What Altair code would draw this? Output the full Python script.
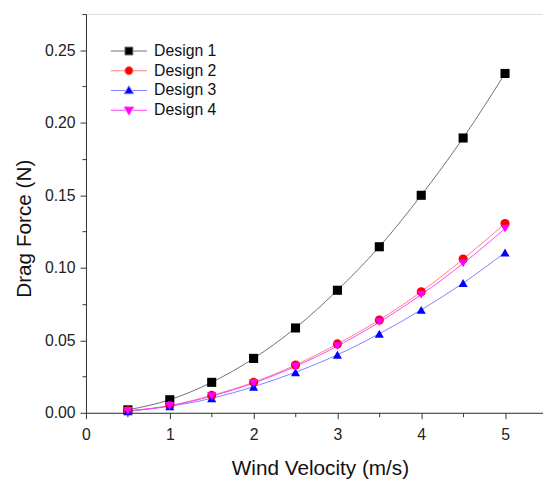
import altair as alt
import pandas as pd

designs = ["Design 1", "Design 2", "Design 3", "Design 4"]
velocity = [0.5, 1.0, 1.5, 2.0, 2.5, 3.0, 3.5, 4.0, 4.5, 5.0]
force_d1 = [0.0020, 0.0090, 0.0210, 0.0375, 0.0585, 0.0845, 0.1145, 0.1500, 0.1895, 0.2340]
force_d2 = [0.0013, 0.0050, 0.0120, 0.0210, 0.0330, 0.0475, 0.0640, 0.0835, 0.1060, 0.1305]
force_d3 = [0.0010, 0.0045, 0.0100, 0.0180, 0.0280, 0.0400, 0.0545, 0.0710, 0.0895, 0.1105]
force_d4 = [0.0013, 0.0048, 0.0115, 0.0205, 0.0320, 0.0460, 0.0625, 0.0815, 0.1030, 0.1270]

marker_colors = ["#000000", "#ff0000", "#0000ff", "#ff00ff"]
line_colors = ["#707070", "#ff8080", "#8080ff", "#ff40ff"]
marker_shapes = ["square", "circle", "triangle-up", "triangle-down"]
# legend symbols: a horizontal line with the marker in its middle (unit = 10 px)
legend_paths = [
    "M-1.83,0H-0.4M0.4,0H1.83M-0.4,-0.4H0.4V0.4H-0.4Z",
    "M-1.83,0H-0.42M0.42,0H1.83M0.42,0A0.42,0.42,0,1,1,-0.42,0A0.42,0.42,0,1,1,0.42,0Z",
    "M-1.83,0H-0.4M0.4,0H1.83M0,-0.48L0.48,0.33H-0.48Z",
    "M-1.83,0H-0.4M0.4,0H1.83M0,0.48L0.48,-0.33H-0.48Z",
]

rows = []
for name, vals in zip(designs, [force_d1, force_d2, force_d3, force_d4]):
    for v, f in zip(velocity, vals):
        rows.append({"design": name, "v": v, "f": f})
df = pd.DataFrame(rows)

x_ticks = [round(i * 0.5, 2) for i in range(0, 11)]
y_ticks = [round(i * 0.025, 3) for i in range(0, 12)]

FONT = "Liberation Sans"

common_axis = dict(
    grid=False,
    labelFontSize=16,
    labelFont=FONT,
    labelColor="#222222",
    titleFontSize=21,
    titleFont=FONT,
    titleFontWeight="normal",
    titleColor="#111111",
    domainColor="#333333",
    tickColor="#333333",
    labelFlush=False,
    labelOverlap=False,
)

x_enc = alt.X(
    "v:Q",
    scale=alt.Scale(domain=[0, 5.453], nice=False, zero=False),
    axis=alt.Axis(
        title="Wind Velocity (m/s)",
        values=x_ticks,
        labelExpr="datum.value % 1 === 0 ? format(datum.value, 'd') : ''",
        tickSize={"condition": {"test": "datum.value % 1 === 0", "value": 6}, "value": 4},
        labelPadding=8,
        titlePadding=16,
        titleX=237,
        **common_axis,
    ),
)
y_enc = alt.Y(
    "f:Q",
    scale=alt.Scale(domain=[0, 0.275], nice=False, zero=True),
    axis=alt.Axis(
        title="Drag Force (N)",
        values=y_ticks,
        labelExpr="abs(datum.value * 20 - round(datum.value * 20)) < 0.001 ? format(datum.value, '.2f') : ''",
        tickSize={"condition": {"test": "abs(datum.value * 20 - round(datum.value * 20)) < 0.001", "value": 6}, "value": 4},
        labelPadding=5,
        titlePadding=10,
        titleY=217,
        **common_axis,
    ),
)

base = alt.Chart(df)

lines = base.mark_line(interpolate="monotone", strokeWidth=1).encode(
    x=x_enc,
    y=y_enc,
    color=alt.Color("design:N", scale=alt.Scale(domain=designs, range=line_colors), legend=None),
    detail="design:N",
)

points = base.mark_point(filled=True, size=85, opacity=1).encode(
    x=x_enc,
    y=y_enc,
    color=alt.Color("design:N", scale=alt.Scale(domain=designs, range=marker_colors), legend=None),
    shape=alt.Shape("design:N", scale=alt.Scale(domain=designs, range=marker_shapes), legend=None),
)

leg = alt.Legend(
    title=None,
    orient="none",
    legendX=33,
    legendY=27,
    padding=0,
    symbolSize=400,
    symbolStrokeWidth=1,
    labelFontSize=16,
    labelFont=FONT,
    labelColor="#111111",
    labelOffset=15,
    rowPadding=1,
)

legend_layer = base.transform_filter("false").mark_point(
    filled=True, size=400, opacity=1, strokeWidth=1
).encode(
    x=x_enc,
    y=y_enc,
    fill=alt.Fill("design:N", scale=alt.Scale(domain=designs, range=marker_colors), legend=leg),
    stroke=alt.Stroke("design:N", scale=alt.Scale(domain=designs, range=line_colors), legend=leg),
    shape=alt.Shape("design:N", scale=alt.Scale(domain=designs, range=legend_paths), legend=leg),
)

chart = (
    alt.layer(lines, points, legend_layer)
    .resolve_scale(color="independent", shape="independent", fill="independent", stroke="independent")
    .properties(
        width=463,
        height=404,
        autosize=alt.AutoSizeParams(type="none"),
        padding={"left": 79, "top": 3, "right": 0, "bottom": 65},
    )
    .configure_view(stroke=None)
    .configure(background="white")
)

chart.save("out.html", embed_options={"renderer": "svg", "actions": False})
